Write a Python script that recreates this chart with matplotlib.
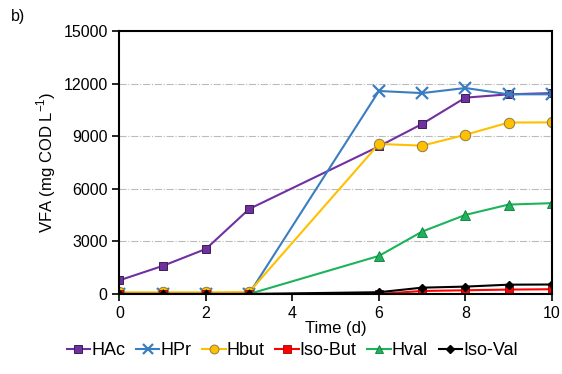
import matplotlib.pyplot as plt
import numpy as np

plt.rcParams['font.family'] = ['Liberation Sans', 'DejaVu Sans']

# sampling days
days = [0, 1, 2, 3, 6, 7, 8, 9, 10]

# VFA concentrations (mg COD/L)
hac = [780, 1600, 2570, 4850, 8420, 9700, 11200, 11390, 11460]
hpr = [20, 20, 20, 20, 11580, 11460, 11750, 11390, 11390]
hbut = [90, 90, 90, 110, 8560, 8460, 9080, 9780, 9790]
isobut = [0, 0, 0, 0, 0, 170, 210, 250, 270]
hval = [0, 0, 0, 0, 2170, 3560, 4510, 5100, 5180]
isoval = [0, 0, 0, 0, 100, 360, 420, 530, 540]

fig = plt.figure(figsize=(5.62, 3.74), dpi=100)
ax = fig.add_axes([0.2126, 0.214, 0.7694, 0.703])

ax.plot(days, hac, color='#7030A0', marker='s', markersize=6,
        markerfacecolor='#7030A0', markeredgecolor='#3A2050', markeredgewidth=0.7,
        lw=1.5, label='HAc')
ax.plot(days, hpr, color='#3A7DC0', marker='x', markersize=8, markeredgewidth=1.6,
        lw=1.5, label='HPr')
ax.plot(days, hbut, color='#FFC000', marker='o', markersize=7.5,
        markerfacecolor='#FFC000', markeredgecolor='#8C7A4A', markeredgewidth=0.7,
        lw=1.5, label='Hbut')
ax.plot(days, isobut, color='#FF0000', marker='s', markersize=6,
        markerfacecolor='#FF0000', markeredgecolor='#A00000', markeredgewidth=0.6,
        lw=1.5, label='Iso-But')
ax.plot(days, hval, color='#1DB35A', marker='^', markersize=6.5,
        markerfacecolor='#1DB35A', markeredgecolor='#0E7A3A', markeredgewidth=0.6,
        lw=1.5, label='Hval')
ax.plot(days, isoval, color='#000000', marker='D', markersize=4.5,
        lw=1.5, label='Iso-Val')

ax.set_xlim(0, 10)
ax.set_ylim(0, 15000)
ax.set_xticks([0, 2, 4, 6, 8, 10])
ax.set_yticks([0, 3000, 6000, 9000, 12000, 15000])
ax.tick_params(labelsize=11.5, direction='out', length=5, width=1.2, color='black')
ax.yaxis.grid(True, linestyle='-.', color='#BBBBBB', lw=0.8)
ax.set_axisbelow(True)
for s in ax.spines.values():
    s.set_linewidth(1.5)
    s.set_color('black')

ax.set_xlabel('Time (d)', fontsize=12, labelpad=0)
ax.set_ylabel('VFA (mg COD L$^{\\mathregular{-1}}$)', fontsize=12, labelpad=4)

fig.text(0.02, 0.955, 'b)', fontsize=11.5, ha='left', va='center')

fig.legend(loc='center', bbox_to_anchor=(0.52, 0.062),
           ncol=6, frameon=False, fontsize=13, handlelength=1.3, handletextpad=0.05,
           columnspacing=0.6, borderaxespad=0, markerscale=0.85)

fig.savefig('out.png', dpi=100)
